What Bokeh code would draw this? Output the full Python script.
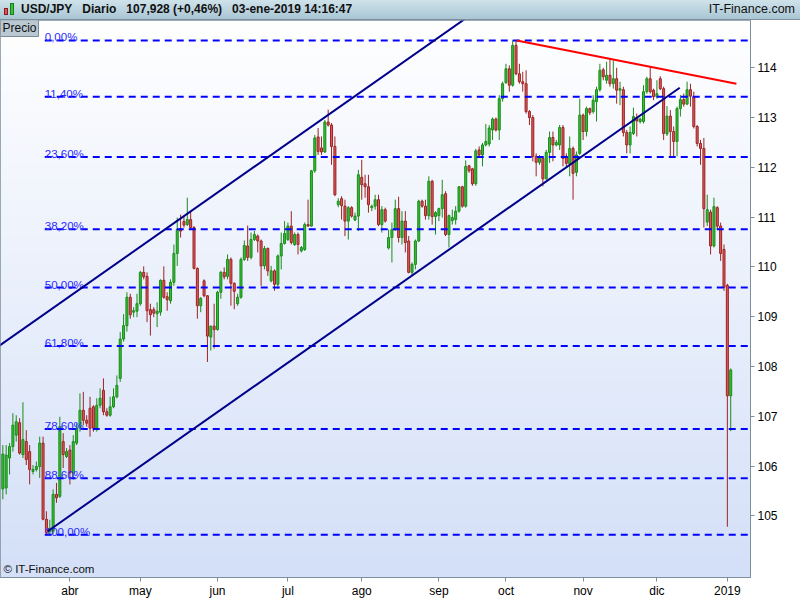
import numpy as np
import pandas as pd
from bokeh.plotting import figure
from bokeh.models import ColumnDataSource, FixedTicker, Range1d, Label, Div
from bokeh.layouts import column
from bokeh.embed import file_html
from bokeh.resources import INLINE
from bokeh.core.properties import value

# ---------------- data ----------------
dates = [d for d in pd.bdate_range("2018-03-05", "2019-01-03") if d != pd.Timestamp("2019-01-01")]

ohlc = [
    (105.54, 106.42, 105.33, 106.24), (105.56, 106.42, 105.43, 106.22), (106.16, 106.46, 105.83, 106.39),
    (106.39, 107.06, 106.29, 106.82), (106.62, 107.02, 106.49, 106.89), (106.87, 106.96, 106.23, 106.26),
    (106.23, 107.28, 106.16, 106.53), (106.49, 106.72, 106.02, 106.13), (106.29, 106.42, 105.63, 105.93),
    (105.89, 106.02, 105.83, 105.93), (105.93, 106.09, 105.89, 105.99), (105.99, 106.59, 105.76, 106.46),
    (106.46, 106.59, 104.91, 104.93), (104.93, 105.09, 104.62, 104.66), (104.68, 104.92, 104.63, 104.75),
    (104.69, 105.53, 104.63, 105.43), (105.43, 105.66, 105.26, 105.36), (105.39, 106.99, 105.36, 106.79),
    (106.49, 106.66, 105.96, 106.23), (106.19, 106.36, 106.16, 106.29), (106.32, 106.42, 105.63, 105.86),
    (105.86, 106.62, 105.73, 106.49), (106.46, 106.86, 106.42, 106.76), (106.76, 107.46, 106.69, 107.12),
    (107.12, 107.49, 106.82, 106.92), (106.92, 107.02, 106.79, 106.86), (107.16, 107.39, 106.59, 106.76),
    (107.19, 107.22, 106.69, 106.76), (106.76, 107.36, 106.69, 107.22), (107.22, 107.56, 107.16, 107.36),
    (107.52, 107.76, 107.02, 107.09), (107.09, 107.16, 106.99, 107.02), (107.02, 107.39, 106.99, 107.19),
    (107.19, 107.56, 107.16, 107.39), (107.39, 107.82, 107.36, 107.62), (107.76, 108.69, 107.69, 108.55),
    (108.55, 109.05, 108.50, 108.82), (108.82, 109.49, 108.70, 109.39), (109.39, 109.46, 108.96, 109.04),
    (109.09, 109.19, 108.99, 109.12), (109.11, 109.46, 108.99, 109.26), (109.26, 109.92, 109.22, 109.89),
    (109.89, 110.01, 109.75, 109.80), (109.81, 109.89, 108.89, 109.12), (109.14, 109.26, 108.62, 109.04),
    (109.14, 109.19, 108.99, 109.07), (109.06, 109.29, 108.79, 109.11), (109.09, 109.75, 109.02, 109.73),
    (109.73, 110.01, 109.36, 109.39), (109.40, 109.49, 109.12, 109.34), (109.32, 109.75, 109.26, 109.69),
    (109.69, 110.45, 109.62, 110.27), (110.27, 110.99, 110.02, 110.75), (110.77, 111.05, 110.59, 110.72),
    (110.91, 111.02, 110.79, 110.84), (110.85, 111.39, 110.82, 110.95), (110.95, 111.12, 110.75, 110.79),
    (110.79, 110.82, 109.95, 109.97), (109.97, 109.99, 108.96, 109.22), (109.22, 109.39, 109.09, 109.37),
    (109.72, 109.75, 109.39, 109.42), (109.42, 109.43, 108.09, 108.61), (108.59, 108.82, 108.32, 108.81),
    (108.81, 109.26, 108.36, 108.74), (108.74, 109.52, 108.72, 109.49), (109.49, 109.92, 109.36, 109.89),
    (109.89, 109.99, 109.75, 109.80), (109.81, 110.25, 109.75, 110.15), (110.15, 110.19, 109.22, 109.67),
    (109.67, 109.69, 109.15, 109.51), (109.26, 109.46, 109.22, 109.39), (109.39, 110.19, 109.36, 110.15),
    (110.15, 110.53, 110.12, 110.43), (110.42, 110.83, 110.12, 110.19), (110.19, 110.69, 110.15, 110.55),
    (110.55, 110.72, 110.52, 110.65), (110.62, 110.65, 110.29, 110.52), (110.52, 110.55, 109.62, 110.02),
    (110.02, 110.42, 109.95, 110.37), (110.37, 110.39, 109.82, 109.92), (109.72, 110.02, 109.69, 109.92),
    (109.92, 109.95, 109.52, 109.65), (109.65, 110.25, 109.56, 110.22), (110.22, 110.69, 109.95, 110.47),
    (110.47, 110.92, 110.45, 110.67), (110.55, 110.89, 110.52, 110.82), (110.82, 111.12, 110.45, 110.49),
    (110.45, 110.69, 110.42, 110.65), (110.65, 110.69, 110.25, 110.45), (110.32, 110.42, 110.29, 110.39),
    (110.35, 110.89, 110.32, 110.85), (110.85, 111.35, 110.81, 110.82), (110.82, 111.95, 110.81, 111.93),
    (111.93, 112.65, 111.89, 112.59), (112.61, 112.79, 112.25, 112.32), (112.39, 112.62, 112.25, 112.31),
    (112.31, 112.95, 112.29, 112.91), (112.91, 113.16, 112.82, 112.85), (112.85, 112.89, 112.05, 112.42),
    (112.42, 112.62, 111.42, 111.45), (111.25, 111.38, 111.20, 111.32), (111.37, 111.42, 110.95, 111.23),
    (111.22, 111.35, 110.62, 110.92), (110.92, 111.22, 110.55, 111.19), (111.19, 111.22, 110.99, 111.02),
    (110.94, 111.09, 110.92, 111.02), (111.02, 111.95, 110.72, 111.85), (111.80, 112.15, 111.35, 111.65),
    (111.67, 111.85, 111.39, 111.61), (111.61, 111.85, 111.09, 111.25), (111.19, 111.25, 111.12, 111.22),
    (111.22, 111.45, 111.15, 111.35), (111.35, 111.45, 110.82, 110.85), (110.85, 111.22, 110.69, 111.15),
    (111.15, 111.19, 110.89, 110.92), (110.38, 110.75, 110.35, 110.59), (110.59, 110.89, 110.09, 110.75),
    (110.75, 111.35, 110.72, 111.17), (111.17, 111.41, 110.49, 110.59), (110.59, 111.12, 110.45, 110.92),
    (110.92, 111.12, 110.29, 110.49), (110.52, 110.62, 109.87, 109.89), (109.89, 110.09, 109.82, 110.05),
    (110.05, 110.55, 109.95, 110.52), (110.52, 111.35, 110.50, 111.32), (111.32, 111.35, 111.19, 111.22),
    (111.22, 111.35, 110.95, 111.03), (111.03, 111.82, 110.95, 111.72), (111.72, 111.75, 110.85, 111.01),
    (111.01, 111.12, 110.65, 111.09), (111.03, 111.19, 110.92, 111.17), (111.17, 111.75, 110.99, 111.45),
    (111.47, 111.52, 110.62, 110.65), (110.65, 111.05, 110.39, 111.03), (110.93, 111.15, 110.85, 110.99),
    (110.95, 111.22, 110.85, 111.12), (111.12, 111.62, 111.09, 111.61), (111.61, 111.63, 111.19, 111.22),
    (111.22, 112.14, 111.19, 112.02), (112.03, 112.05, 111.89, 111.93), (111.97, 111.99, 111.63, 111.67),
    (111.67, 112.37, 111.63, 112.33), (112.35, 112.42, 112.22, 112.25), (112.25, 112.49, 112.02, 112.45),
    (112.45, 112.87, 112.42, 112.52), (112.47, 112.85, 112.42, 112.79), (112.75, 113.00, 112.55, 112.97),
    (112.97, 113.00, 112.72, 112.75), (112.75, 113.45, 112.55, 113.38), (113.38, 113.72, 113.32, 113.68),
    (113.70, 114.08, 113.68, 113.98), (113.98, 114.05, 113.52, 113.65), (113.65, 114.55, 113.62, 114.45),
    (114.45, 114.55, 113.85, 113.88), (113.88, 114.08, 113.68, 113.72), (113.72, 113.92, 113.52, 113.68),
    (113.68, 113.95, 113.08, 113.12), (113.12, 113.15, 112.85, 113.00), (113.00, 113.05, 112.12, 112.22),
    (112.22, 112.28, 111.82, 112.10), (112.10, 112.25, 112.05, 112.18), (112.18, 112.22, 111.62, 111.77),
    (111.77, 112.35, 111.75, 112.30), (112.30, 112.72, 112.09, 112.60), (112.60, 112.72, 112.12, 112.45),
    (112.45, 112.55, 112.42, 112.50), (112.45, 112.85, 112.35, 112.80), (112.80, 112.85, 112.02, 112.18),
    (112.22, 112.28, 112.02, 112.08), (112.07, 112.62, 111.82, 112.38), (112.38, 112.42, 111.35, 111.88),
    (111.90, 112.32, 111.82, 112.25), (112.28, 113.38, 112.25, 113.05), (113.05, 113.08, 112.55, 112.72),
    (112.72, 113.22, 112.62, 113.18), (113.18, 113.20, 113.05, 113.10), (113.12, 113.45, 113.08, 113.35),
    (113.32, 113.62, 112.92, 113.56), (113.56, 114.08, 113.52, 113.95), (113.96, 114.00, 113.75, 113.82),
    (113.75, 114.12, 113.68, 113.85), (113.85, 114.18, 113.62, 113.68), (113.68, 114.15, 113.58, 113.78),
    (113.78, 114.00, 113.28, 113.55), (113.55, 113.72, 113.25, 113.58), (113.56, 113.62, 112.62, 112.70),
    (112.70, 112.75, 112.28, 112.45), (112.45, 112.82, 112.28, 112.70), (112.68, 113.20, 112.65, 113.02),
    (113.00, 113.08, 112.62, 112.93), (112.92, 113.00, 112.88, 112.97), (112.92, 113.65, 112.88, 113.52),
    (113.52, 113.82, 113.48, 113.78), (113.78, 114.03, 113.48, 113.52), (113.55, 113.58, 113.35, 113.42),
    (113.42, 113.75, 113.38, 113.48), (113.78, 113.83, 113.55, 113.58), (113.58, 113.62, 112.55, 112.68),
    (112.67, 113.23, 112.63, 113.03), (113.03, 113.15, 112.22, 112.72), (112.72, 112.82, 112.22, 112.52),
    (112.52, 113.22, 112.22, 113.18), (113.18, 113.45, 113.02, 113.36), (113.36, 113.48, 113.22, 113.27),
    (113.27, 113.72, 113.25, 113.56), (113.56, 113.68, 113.22, 113.43), (113.42, 113.52, 112.78, 112.82),
    (112.82, 112.85, 112.42, 112.48), (112.48, 112.55, 112.05, 112.38), (112.38, 112.59, 110.79, 111.17),
    (110.90, 111.45, 110.82, 111.15), (111.10, 111.15, 110.25, 110.42), (110.42, 111.39, 110.39, 111.21),
    (111.19, 111.22, 110.75, 110.82), (110.82, 110.89, 110.12, 110.27), (110.35, 110.45, 109.52, 109.59),
    (109.63, 109.66, 104.78, 107.41), (107.41, 107.96, 106.70, 107.93),
]
opens = [r[0] for r in ohlc]
highs = [r[1] for r in ohlc]
lows = [r[2] for r in ohlc]
closes = [r[3] for r in ohlc]

n = min(len(dates), len(ohlc))
dates = dates[:n]
opens, highs, lows, closes = opens[:n], highs[:n], lows[:n], closes[:n]

month_names = ["ene", "feb", "mar", "abr", "may", "jun", "jul", "ago", "sep", "oct", "nov", "dic"]

fib_pcts = [0.0, 11.4, 23.6, 38.2, 50.0, 61.8, 78.6, 88.6, 100.0]
fib_labels = ["0,00%", "11,40%", "23,60%", "38,20%", "50,00%", "61,80%", "78,60%", "88,60%", "100,00%"]

channel_x = [13.4, 201.8]
channel_low_y = [104.69, 113.60]
channel_offset = 4.41
resist_x = [153.2, 218.7]
resist_y = [114.55, 113.68]

y_ticks = [105, 106, 107, 108, 109, 110, 111, 112, 113, 114]

header_left = ["USD/JPY", "Diario", "107,928 (+0,46%)", "03-ene-2019 14:16:47"]
header_right = "IT-Finance.com"

# ---------------- layout ----------------
W = 800
HEAD_H = 20
H = 600 - HEAD_H
BOTTOM, RIGHT = 20, 50
FW, FH = W - RIGHT, H - BOTTOM
XR = (-0.69, 222.9)
YR = (103.76, 114.95)

icon = ('<span style="display:inline-block;width:4px;height:7px;background:#d95555;'
        'border:1px solid #8c1c1c;margin:4px 2px 0 4px;"></span>'
        '<span style="display:inline-block;width:4px;height:12px;background:#33c433;'
        'border:1px solid #1b7f1b;margin:0 7px 0 0;"></span>')
left_html = "&nbsp;&nbsp; ".join(header_left)
header_html = (
    '<div style="width:%dpx;height:%dpx;box-sizing:border-box;display:flex;align-items:center;'
    'justify-content:space-between;background:linear-gradient(#cfe2ea,#a9c6d4);'
    'font-family:\'Liberation Sans\',Arial,sans-serif;font-size:12px;color:#111;'
    'border-bottom:1px solid #7d8e9c;">'
    '<span style="display:flex;align-items:center;">%s<b>%s</b></span>'
    '<span style="padding-right:5px;font-size:12.5px;">%s</span></div>'
) % (W, HEAD_H, icon, left_html, header_right)
header = Div(text=header_html, width=W, height=HEAD_H, margin=(0, 0, 0, 0))

idx = list(range(n))
p = figure(width=W, height=H, output_backend="svg", toolbar_location=None, title=None,
           x_range=Range1d(*XR), y_range=Range1d(*YR), y_axis_location="right",
           min_border_left=0, min_border_right=RIGHT, min_border_top=0, min_border_bottom=BOTTOM,
           margin=(0, 0, 0, 0))
p.grid.visible = False
p.outline_line_color = "#7d8e9c"
p.background_fill_color = "white"
p.border_fill_color = "white"

# background gradient (white -> light blue)
rows = 200
top_c = np.array([255, 255, 255])
bot_c = np.array([212, 224, 248])
t = np.linspace(0, 1, rows)[:, None]
cols = (bot_c[None, :] * (1 - t) + top_c[None, :] * t).astype(np.uint32)
img = np.empty((rows, 2), dtype=np.uint32)
view = img.view(dtype=np.uint8).reshape((rows, 2, 4))
view[:, :, 0] = cols[:, 0][:, None]
view[:, :, 1] = cols[:, 1][:, None]
view[:, :, 2] = cols[:, 2][:, None]
view[:, :, 3] = 255
p.image_rgba(image=[img], x=XR[0], y=YR[0], dw=XR[1] - XR[0], dh=YR[1] - YR[0])

# candles
up = [c >= o for o, c in zip(opens, closes)]
src = ColumnDataSource(dict(
    x=idx, o=opens, h=highs, l=lows, c=closes,
    top=[max(o, c) for o, c in zip(opens, closes)],
    bottom=[min(o, c) for o, c in zip(opens, closes)],
    fill=["#31c231" if u else "#dc5a5a" for u in up],
    line=["#1d8a1d" if u else "#9c2323" for u in up],
))
p.segment(x0="x", y0="h", x1="x", y1="l", line_color="line", line_width=1, source=src)
p.vbar(x="x", width=0.6, top="top", bottom="bottom", fill_color="fill", line_color="line",
       line_width=1, source=src)

# fibonacci retracement
hi, lo = max(highs), min(lows)
fib_start = lows.index(lo) - 0.5
levels = [hi - pc / 100.0 * (hi - lo) for pc in fib_pcts]
p.segment(x0=[fib_start] * len(levels), x1=[XR[1] + 5] * len(levels), y0=levels, y1=levels,
          line_color="#0000ff", line_width=2, line_dash="7 5")
p.text(x=[fib_start] * len(levels), y=levels, text=fib_labels, text_font=value("Liberation Sans"),
       text_font_size="11.5px", text_color="#2a2aff", text_baseline="alphabetic", y_offset=-3)

# channel lines
slope = (channel_low_y[1] - channel_low_y[0]) / (channel_x[1] - channel_x[0])
p.line(channel_x, channel_low_y, line_color="#00008b", line_width=2)
ux = [XR[0] - 1, 160]
uy = [channel_low_y[0] + (x - channel_x[0]) * slope + channel_offset for x in ux]
p.line(ux, uy, line_color="#00008b", line_width=2)

# resistance line
p.line(resist_x, resist_y, line_color="#ff0000", line_width=2)

# axes
month_ticks, month_lbls = [], []
for i in range(1, n):
    if dates[i].month != dates[i - 1].month:
        month_ticks.append(i)
        month_lbls.append(str(dates[i].year) if dates[i].month == 1 else month_names[dates[i].month - 1])

xa = p.xaxis[0]
xa.ticker = FixedTicker(ticks=month_ticks)
xa.major_label_overrides = {t_: l_ for t_, l_ in zip(month_ticks, month_lbls)}
xa.minor_tick_line_color = None
xa.major_tick_in = 0
xa.major_tick_out = 4
xa.major_label_standoff = 2
xa.axis_line_color = "#7d8e9c"
xa.major_tick_line_color = "#7d8e9c"
xa.major_label_text_font = "Liberation Sans"
xa.major_label_text_font_size = "12px"
xa.major_label_text_color = "black"

ya = p.yaxis[0]
ya.ticker = FixedTicker(ticks=y_ticks)
ya.major_label_overrides = {v: str(v) for v in y_ticks}
ya.minor_tick_line_color = None
ya.major_tick_in = 0
ya.major_tick_out = 4
ya.major_label_standoff = 3
ya.axis_line_color = "#7d8e9c"
ya.major_tick_line_color = "#7d8e9c"
ya.major_label_text_font = "Liberation Sans"
ya.major_label_text_font_size = "12px"
ya.major_label_text_color = "black"

p.add_layout(Label(x=3, y=3, x_units="screen", y_units="screen", text="\u00a9 IT-Finance.com",
                   text_font="Liberation Sans", text_font_size="11.5px", text_align="left",
                   text_baseline="bottom", text_color="#111111"))
try:
    precio = Label(x=0, y=FH - 1, x_units="screen", y_units="screen", text="Precio",
                   text_font="Liberation Sans", text_font_size="12px", text_align="left",
                   text_baseline="top", text_color="#111111",
                   background_fill_color="#b9c8d1", border_line_color="#7a8a96", padding=2)
except Exception:
    precio = Label(x=0, y=FH - 1, x_units="screen", y_units="screen", text="Precio",
                   text_font="Liberation Sans", text_font_size="12px", text_align="left",
                   text_baseline="top", text_color="#111111",
                   background_fill_color="#b9c8d1", border_line_color="#7a8a96")
p.add_layout(precio)

layout = column(header, p, spacing=0)
open("out.html", "w").write(file_html(layout, INLINE))
